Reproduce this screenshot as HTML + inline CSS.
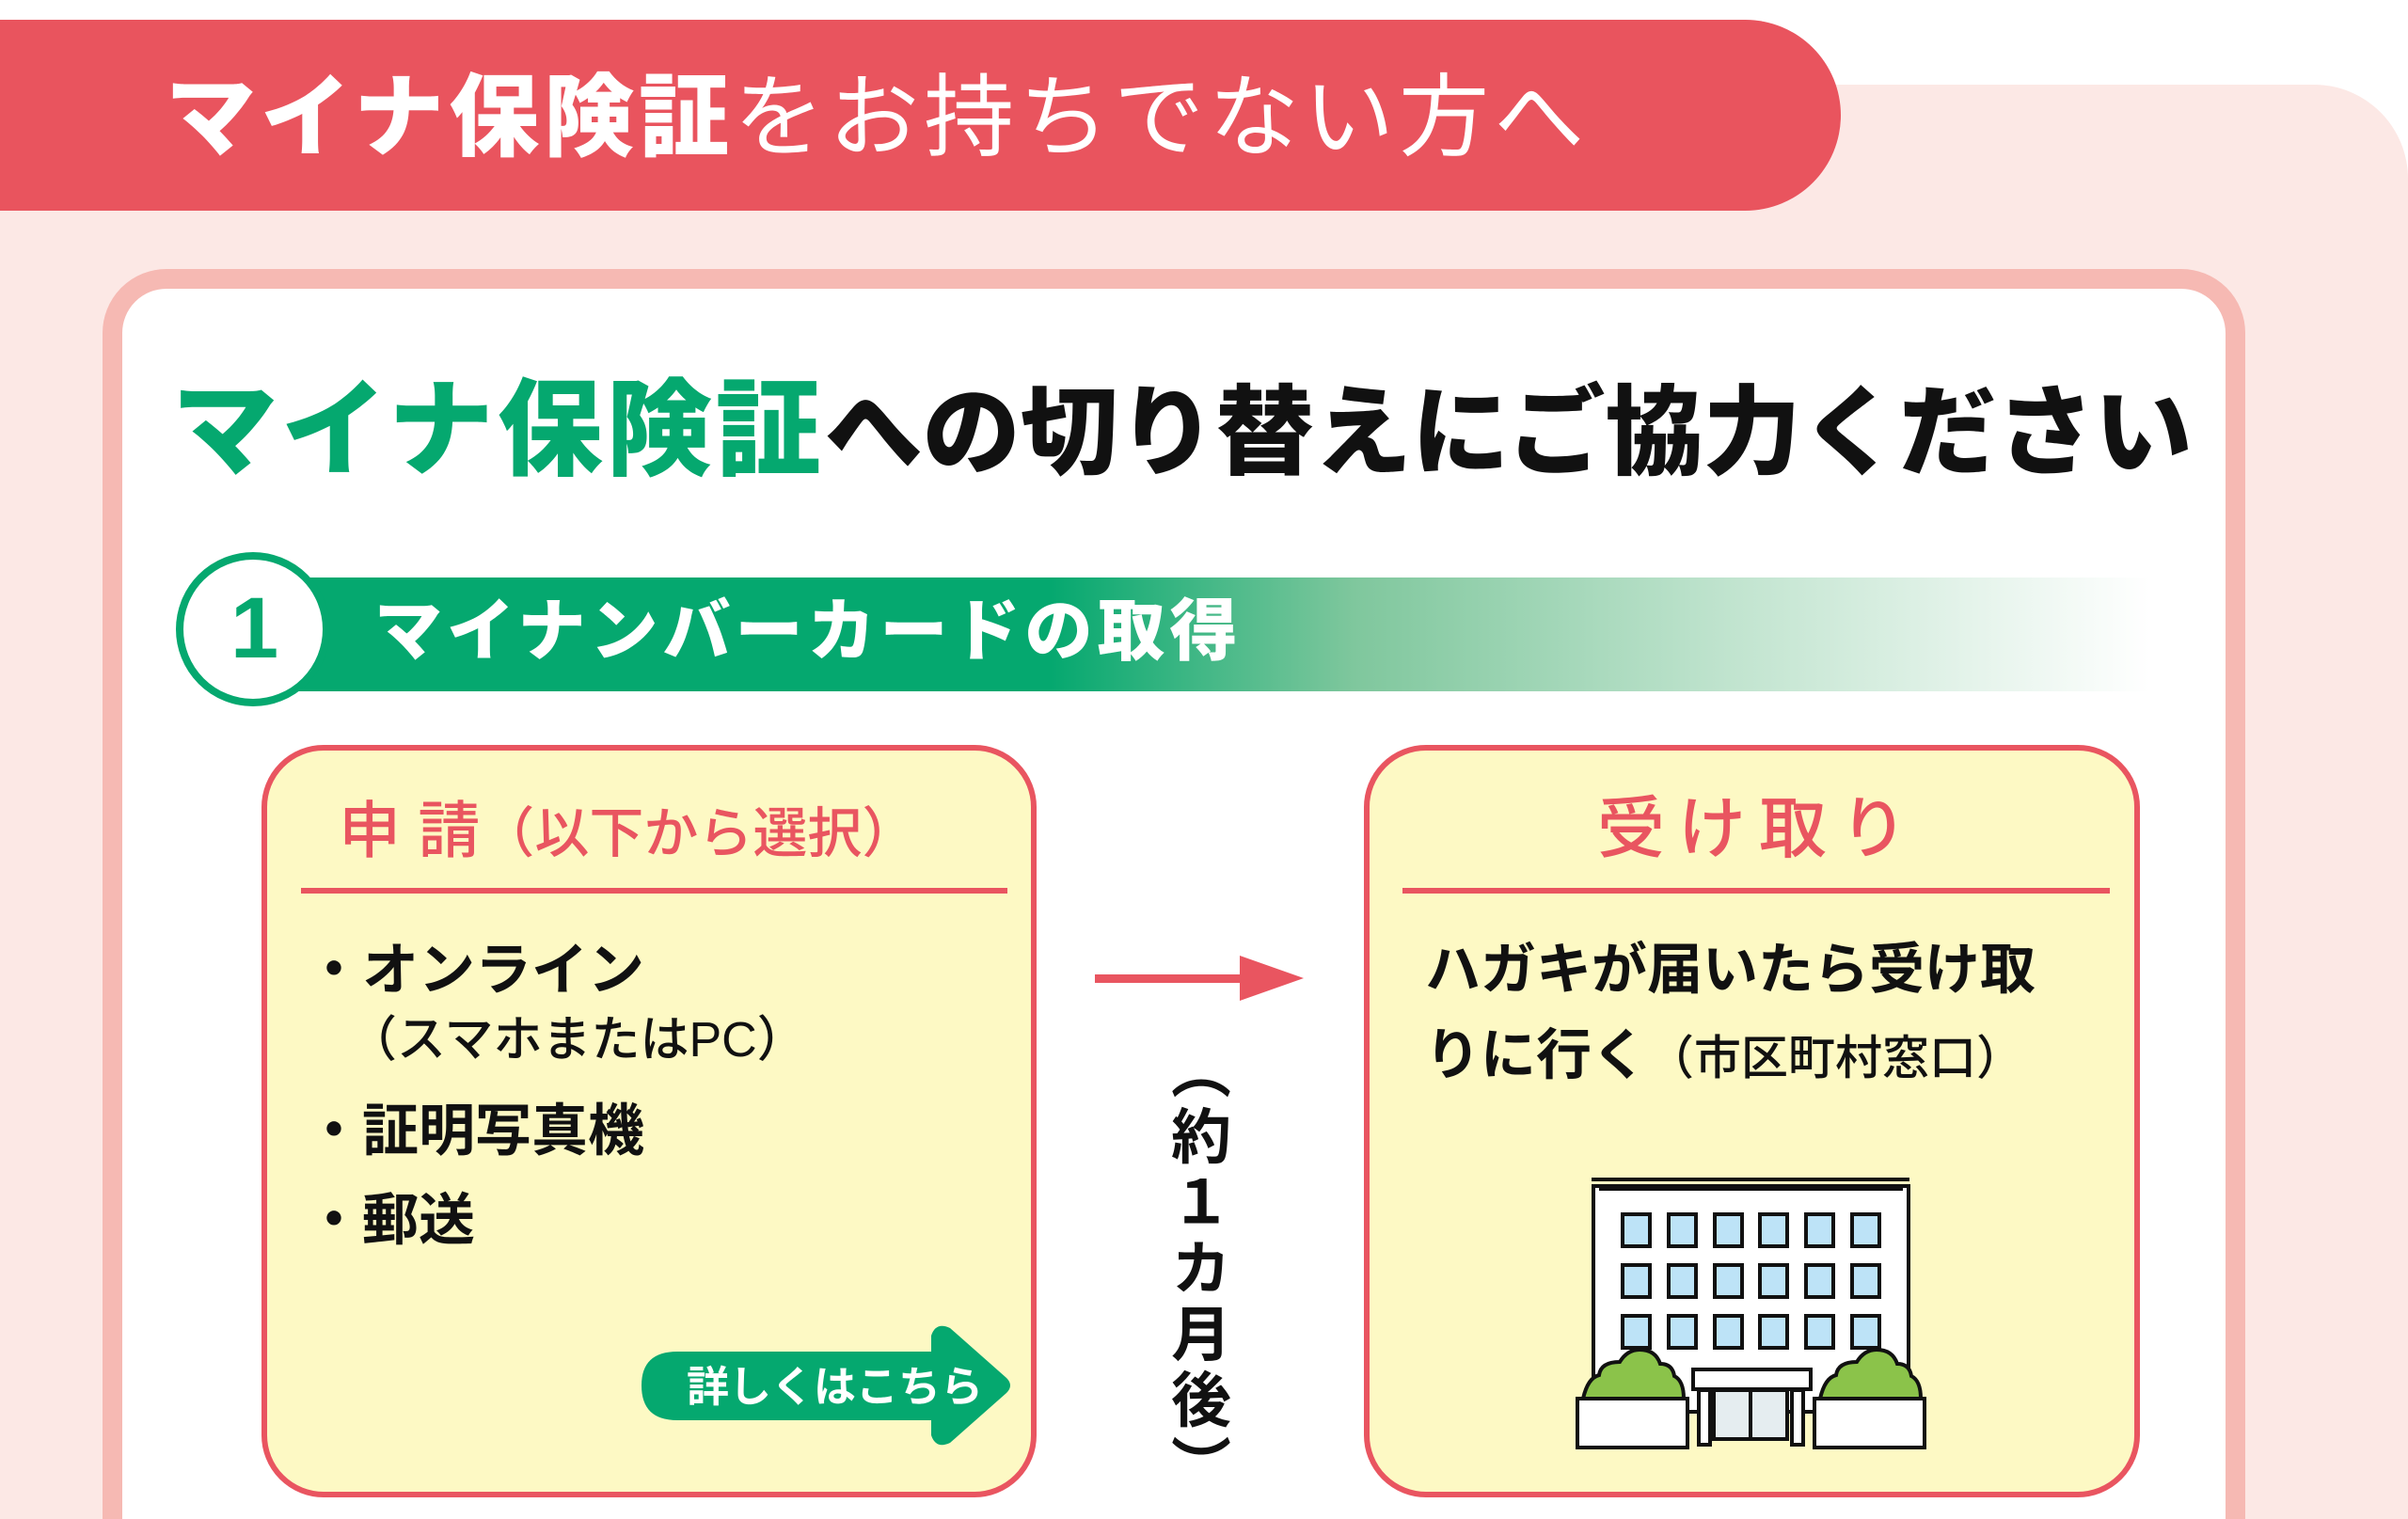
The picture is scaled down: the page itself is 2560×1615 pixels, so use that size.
<!DOCTYPE html>
<html style="width:2560px;height:1615px;overflow:hidden"><head><meta charset="utf-8">
<style>
*{margin:0;padding:0;box-sizing:border-box}
body{width:2560px;height:1615px;position:relative;overflow:hidden;background:#fff;font-family:"Liberation Sans","Noto Sans CJK JP",sans-serif}
.a{position:absolute;white-space:nowrap;line-height:1}
</style></head><body>
<div style="position:absolute;left:0;top:0;width:2560px;height:1615px;overflow:hidden">
<div class="a" style="left:0;top:90px;width:2560px;height:1525px;background:#fce8e5;border-top-right-radius:100px"></div>
<div class="a" style="left:0;top:21px;width:1957px;height:203px;background:#e9545e;border-radius:0 102px 102px 0"></div>
<div class="a" style="left:176px;top:78px;font-size:96px;color:#fff;letter-spacing:5px"><b style="font-weight:900">マイナ保険証</b><span style="font-weight:400">をお持ちでない方へ</span></div>
<div class="a" style="left:109px;top:286px;width:2278px;height:1400px;background:#fff;border:21px solid #f6b9b3;border-radius:68px"></div>
<div class="a" style="left:183px;top:402px;font-size:104px;font-weight:900;color:#111"><span style="color:#05a86f;font-size:112px;letter-spacing:4px">マイナ保険証</span>への切り替えにご協力ください</div>
<div class="a" style="left:270px;top:614px;width:2016px;height:121px;background:linear-gradient(90deg,#05a86f 0%,#05a86f 42%,#7fc79d 58%,#c1e4cf 78%,#fff 100%)"></div>
<div class="a" style="left:187px;top:587px;width:164px;height:164px;border-radius:50%;background:#fff;border:8px solid #05a86f"></div>
<div class="a" style="left:245px;top:622px;font-size:92px;font-weight:900;color:#05a86f">1</div>
<div class="a" style="left:398px;top:636px;font-size:72px;font-weight:900;color:#fff;letter-spacing:5px">マイナンバーカードの取得</div>

<div class="a" style="left:278px;top:792px;width:824px;height:800px;background:#fdf9c4;border:6px solid #e95560;border-radius:66px"></div>
<div class="a" style="left:360px;top:850px;font-size:66px;font-weight:500;color:#e95560">申 請<span style="font-size:58px">（以下から選択）</span></div>
<div class="a" style="left:320px;top:944px;width:751px;height:6px;background:#e95560"></div>
<div class="a" style="left:325px;top:1002px;font-size:60px;font-weight:700;color:#111">・オンライン</div>
<div class="a" style="left:370px;top:1080px;font-size:52px;font-weight:500;color:#111">（スマホまたはPC）</div>
<div class="a" style="left:325px;top:1173px;font-size:60px;font-weight:700;color:#111">・証明写真機</div>
<div class="a" style="left:325px;top:1268px;font-size:60px;font-weight:700;color:#111">・郵送</div>
<svg class="a" style="left:670px;top:1400px" width="420" height="145" viewBox="0 0 420 145">
<path d="M50 37 H320 V20 Q325 5 340 12 L400 65 Q408 73 400 81 L340 134 Q325 141 320 126 V110 H50 Q12 110 12 73 Q12 37 50 37Z" fill="#05a86f"/>
<text x="60" y="90" font-size="45" font-weight="700" fill="#fff" font-family="Noto Sans CJK JP">詳しくはこちら</text>
</svg>

<svg class="a" style="left:1160px;top:1010px" width="240" height="60"><rect x="4" y="26" width="160" height="9" fill="#e95560"/><polygon points="158,6 226,30 158,54" fill="#e95560"/></svg>
<div class="a" style="left:1240px;top:1105px;font-size:64px;font-weight:700;color:#111;writing-mode:vertical-rl;line-height:1;letter-spacing:6px">（約１カ月後）</div>

<div class="a" style="left:1450px;top:792px;width:825px;height:800px;background:#fdf9c4;border:6px solid #e95560;border-radius:66px"></div>
<div class="a" style="left:1698px;top:846px;font-size:72px;font-weight:500;color:#e95560;letter-spacing:14px">受け取り</div>
<div class="a" style="left:1491px;top:944px;width:752px;height:6px;background:#e95560"></div>
<div class="a" style="left:1515px;top:1002px;font-size:59px;font-weight:700;color:#111">ハガキが届いたら受け取</div>
<div class="a" style="left:1515px;top:1093px;font-size:59px;font-weight:700;color:#111">りに行く<span style="font-size:50px;font-weight:500">（市区町村窓口）</span></div>

<svg class="a" style="left:0;top:0" width="2560" height="1615" viewBox="0 0 2560 1615">
<g stroke="#111" stroke-width="4" fill="none">
<rect x="1694" y="1261" width="335" height="240" fill="#fff"/>
<line x1="1692" y1="1254" x2="2030" y2="1254"/>
<line x1="1700" y1="1264" x2="2023" y2="1264"/>
</g>
<g fill="#bde3f7" stroke="#111" stroke-width="4">
<rect x="1725" y="1291" width="29" height="34"/><rect x="1774" y="1291" width="29" height="34"/><rect x="1823" y="1291" width="29" height="34"/><rect x="1871" y="1291" width="29" height="34"/><rect x="1920" y="1291" width="29" height="34"/><rect x="1969" y="1291" width="29" height="34"/>
<rect x="1725" y="1345" width="29" height="34"/><rect x="1774" y="1345" width="29" height="34"/><rect x="1823" y="1345" width="29" height="34"/><rect x="1871" y="1345" width="29" height="34"/><rect x="1920" y="1345" width="29" height="34"/><rect x="1969" y="1345" width="29" height="34"/>
<rect x="1725" y="1399" width="29" height="34"/><rect x="1774" y="1399" width="29" height="34"/><rect x="1823" y="1399" width="29" height="34"/><rect x="1871" y="1399" width="29" height="34"/><rect x="1920" y="1399" width="29" height="34"/><rect x="1969" y="1399" width="29" height="34"/>
</g>
<g stroke="#111" stroke-width="4">
<path d="M1683 1487 Q1688 1465 1700 1462 Q1702 1448 1722 1448 Q1730 1435 1743 1435 Q1760 1435 1765 1450 Q1778 1450 1780 1463 Q1790 1468 1790 1487Z" fill="#8bc34a"/>
<path d="M1935 1487 Q1940 1465 1952 1462 Q1954 1448 1974 1448 Q1982 1435 1995 1435 Q2012 1435 2017 1450 Q2030 1450 2032 1463 Q2042 1468 2042 1487Z" fill="#8bc34a"/>
<rect x="1677" y="1487" width="117" height="52" fill="#fff"/>
<rect x="1929" y="1487" width="117" height="52" fill="#fff"/>
<rect x="1800" y="1456" width="125" height="21" fill="#fff"/>
<rect x="1822" y="1478" width="78" height="52" fill="#e5edf0"/>
<line x1="1861" y1="1478" x2="1861" y2="1530"/>
<rect x="1806" y="1478" width="12" height="58" fill="#fff"/>
<rect x="1905" y="1478" width="12" height="58" fill="#fff"/>
</g>
</svg>
</div>
</body></html>
